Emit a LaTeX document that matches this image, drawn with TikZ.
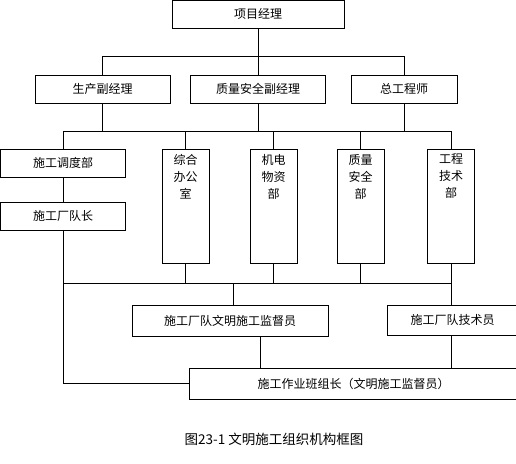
\documentclass[tikz,border=0pt]{standalone}
\usepackage{fontspec}
\setmainfont{Noto Sans CJK SC}
\usepackage{tikz}
\usetikzlibrary{calc}
\newcommand\vtext[1]{\begin{minipage}[t][114pt][t]{47pt}\centering\vspace*{5pt}\baselineskip=17pt #1\end{minipage}}

\begin{document}
\begin{tikzpicture}[x=1pt,y=-1pt,line width=0.8pt,
    box/.style={draw,inner sep=0pt,minimum height=28pt},
    vbox/.style={draw,inner sep=0pt},
    captxt/.style={inner sep=0pt,font=\fontsize{13.5}{15}\selectfont}]
      \useasboundingbox (0,0) rectangle (516,463);
      \fontsize{12}{14}\selectfont
      \node[box,minimum width=172pt] (pm) at (258,14) {项目经理};
      \node[box,minimum width=135pt] (fu1) at (102.5,89) {生产副经理};
      \node[box,minimum width=135pt] (fu2) at (258,89) {质量安全副经理};
      \node[box,minimum width=106pt] (zgs) at (404,89) {总工程师};
      \node[box,minimum width=125pt] (ddb) at (63,163) {施工调度部};
      \node[box,minimum width=125pt] (dz) at (63,216) {施工厂队长};
      \node[vbox] (zh) at (185.5,206) {\vtext{综合\\办公\\室}};
      \node[vbox] (jd) at (273.5,206) {\vtext{机电\\物资\\部}};
      \node[vbox] (zl) at (360.5,206) {\vtext{质量\\安全\\部}};
      \node[vbox] (gc) at (451,206) {\vtext{工程\\技术\\部}};
      \node[box,minimum width=196pt,minimum height=31pt] (jdy) at (230,320.5) {施工厂队文明施工监督员};
      \node[box,minimum width=131pt,minimum height=30pt] (jsy) at (452.5,320) {施工厂队技术员};
      \node[box,minimum width=329pt,minimum height=31pt] (bz) at (353.5,383.5) {施工作业班组长（文明施工监督员）};
      \node[captxt] (cap) at (274,439) {图23-1 文明施工组织机构框图};
      \coordinate (bus1) at (0,56);
      \coordinate (bus2) at (0,131);
      \coordinate (bus3) at (0,283);
      \draw (pm.south) -- (fu2.north);
      \draw (fu1.north) |- (bus1 -| zgs) -- (zgs.north);
      \foreach \n in {fu1,fu2,zgs} {
        \draw (\n.south) -- (\n.south |- bus2);
      }
      \draw (ddb.north) |- (bus2 -| gc) -- (gc.north);
      \foreach \n in {zh,jd,zl} {
        \draw (\n.north) -- (\n.north |- bus2);
        \draw (\n.south) -- (\n.south |- bus3);
      }
      \draw (ddb) -- (dz);
      \draw (dz.south) |- (bz.west);
      \draw (bus3 -| dz) -- (bus3 -| gc);
      \draw (gc.south) -- (gc.south |- jsy.north);
      \draw ([xshift=3pt]jdy.north) -- ([xshift=3pt]jdy.north |- bus3);
      \draw ([xshift=30pt]jdy.south) -- ([xshift=30pt]jdy.south |- bz.north);
      \draw (jsy.south -| gc) -- (bz.north -| gc);
  \end{tikzpicture}
\end{document}
